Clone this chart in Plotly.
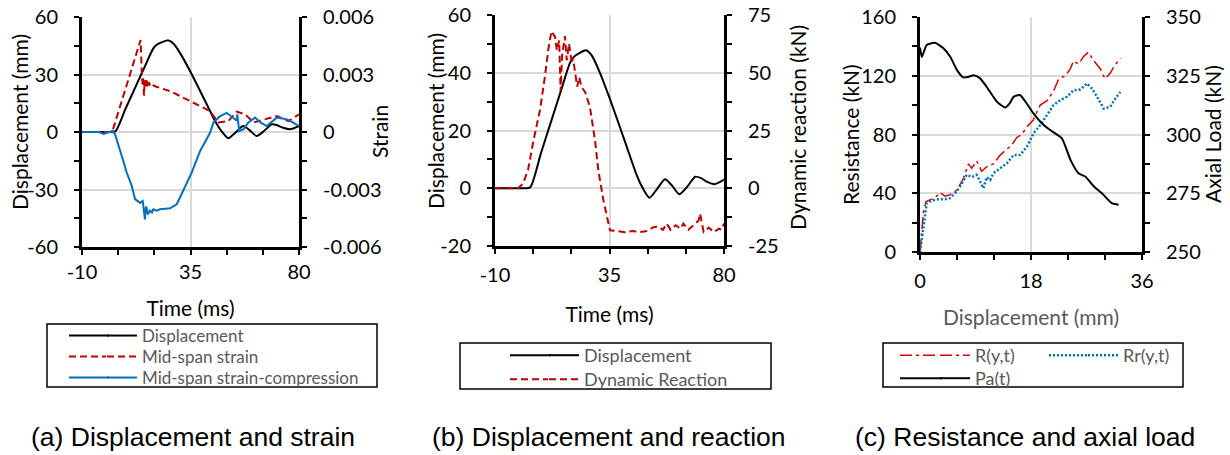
import plotly.graph_objects as go

# ---------------- data ----------------
# (a)/(b) mid-span displacement time history (mm)
t_disp = [-10, 0, 3.8, 8, 12, 16, 19.5, 21, 23.5, 25.8, 28, 31, 34.8, 39, 43.1, 45.2,
          47.5, 50.7, 53.5, 56.8, 59.5, 62.4, 65.5, 68.7, 71, 73.4, 76.3, 80]
disp = [0, 0, 0.3, 12, 23, 34, 43.5, 45.5, 47, 47.8, 46, 40.5, 31.8, 21.4, 11, 5.7,
        1, -3.3, -0.5, 3.1, 1, -2.1, 0.5, 4, 3.5, 2.2, 1.4, 3]

# (a) mid-span strain (tension)
t_strain = [-10, 2.5, 3.5, 9, 14.3, 14.8, 15.1, 15.4, 15.7, 16.0, 16.4, 16.8, 17.2, 17.7,
            18.3, 19, 20, 22.4, 27.2, 33.4, 39, 43, 46.5, 50.7, 54.2, 57.7, 61.1, 66,
            70.8, 75.6, 80]
strain = [0, 0, 0.0004, 0.0026, 0.0048, 0.0031, 0.0025, 0.0028, 0.0019, 0.0027, 0.0024,
          0.0027, 0.0023, 0.0026, 0.0024, 0.0025, 0.0024, 0.0023, 0.0021, 0.0017, 0.00136,
          0.0011, 0.0005, 0.00057, 0.00106, 0.00092, 0.0005, 0.00066, 0.00083, 0.00057,
          0.00092]

# (a) mid-span strain (compression)
t_comp = [-10, -3, -1, 1.5, 2.7, 3.7, 5.5, 7.1, 8.5, 10.6, 12, 13.2, 14.1, 15.2, 15.7,
          16.1, 16.5, 16.8, 17.3, 18.2, 19, 19.6, 21, 22.3, 24.5, 26.5, 29.3, 32.7, 35.5,
          39, 43.1, 44.5, 47, 50, 52.8, 54.1, 54.4, 55.2, 56.9, 59, 61.8, 64, 66.6, 68.5,
          70.8, 73, 75, 77.5, 80]
strain_comp = [0, 0, -0.0001, 0, 0.00005, -0.00012, -0.0008, -0.0015, -0.0021, -0.0028,
               -0.0035, -0.0036, -0.0037, -0.0036, -0.0040, -0.00456, -0.0039, -0.00395,
               -0.0043, -0.0041, -0.0042, -0.00403, -0.0041, -0.00403, -0.0040, -0.00398,
               -0.00377, -0.0029, -0.00212, -0.00099, -0.00004, 0.00049, 0.0008, 0.001,
               0.00075, 0.0006, 0.00092, 0.00005, 0.00014, 0.0005, 0.00075, 0.0005,
               0.00031, 0.0005, 0.00075, 0.0007, 0.00066, 0.0005, 0.00031]

# (b) dynamic reaction (kN)
t_react = [-10, -1, 1, 3, 5, 7, 7.7, 9.7, 11, 12.2, 12.7, 13.6, 14.3, 15.2, 15.8, 16.4,
           17.5, 18.2, 19.1, 20.2, 20.6, 22.3, 23.1, 24, 25.4, 27.3, 29.3, 30.6, 32.6,
           35.2, 38, 41, 44, 47, 50, 52, 54, 56, 57.5, 59, 61, 63, 64, 66, 68, 70, 70.6,
           72, 74, 76, 78, 79, 80]
reaction = [0, 0, 2, 8, 20, 31, 34, 49, 60.5, 68, 67, 65.5, 59.7, 64, 42, 58, 65.8, 55.4,
            62.6, 54, 56.8, 44, 48, 43.8, 41.7, 35.2, 20.8, 7.8, -5.2, -18.2, -18.5, -19,
            -18.5, -19, -18.5, -17, -16.5, -18, -15.3, -18, -16, -17.5, -15.3, -18, -16,
            -14, -11, -18.9, -17, -19, -17.5, -18, -15.3]

# (c) resistance R(y,t) (kN) vs displacement (mm)
d_R = [0, 0.27, 0.54, 0.97, 1.6, 2.4, 3.25, 4.06, 4.87, 5.96, 7.04, 7.85, 8.39, 9.2, 10.0,
       10.8, 11.9, 13.0, 14.1, 14.9, 15.7, 16.5, 17.3, 18.4, 18.9, 19.5, 20.6, 21.7, 22.5,
       23.6, 24.4, 24.9, 25.7, 26.5, 27.3, 28.2, 29.2, 30.0, 30.9, 31.4, 32.5]
R = [0, 13, 26.5, 34.4, 35.5, 36.7, 40.5, 38, 39, 42, 50, 60, 57, 62, 55, 58, 60, 66, 70,
     73, 78, 80, 85, 90, 95, 100, 103, 110, 118, 120, 125, 130, 128, 133, 136, 130, 125,
     118, 122, 126, 132]

# (c) resistance Rr(y,t) (kN)
d_Rr = [0, 0.27, 0.54, 0.81, 1.08, 1.62, 2.44, 3.25, 4.06, 4.87, 5.68, 6.5, 7.58, 8.39,
        9.2, 9.75, 10.29, 10.83, 11.37, 11.91, 12.99, 14.08, 15.16, 16.24, 17.33, 18.41,
        19.49, 20.57, 21.66, 22.74, 23.82, 24.91, 25.99, 27.07, 27.88, 28.7, 29.78, 30.86,
        31.67, 32.49]
Rr = [0, 8, 17, 24, 33, 34.4, 35.5, 36, 36, 36.7, 40, 44.6, 52.5, 51, 52.5, 48, 43.4, 51,
      49, 53.6, 57, 60.4, 66, 66, 71.7, 80.8, 86.4, 93.2, 100, 103.4, 105.7, 110.2, 110.6,
      114.7, 111.3, 105.7, 97.7, 98.9, 104.5, 109]

# (c) axial load Pa(t) (kN)
d_Pa = [0, 0.3, 0.6, 1.1, 2.4, 3.8, 4.9, 6, 7, 7.8, 8.7, 9.7, 10.8, 12.5, 13.8, 14.6, 15.2,
        16.2, 17.3, 18.4, 19.8, 21.1, 23, 24.4, 25.7, 26.8, 28.2, 29.5, 31.1, 32.2]
Pa = [337, 333, 335, 338.1, 339, 336.7, 333.1, 327.4, 324.3, 324.5, 325.2, 324, 320.3,
      313.9, 311.5, 313.5, 316.1, 316.8, 313.2, 309, 304.7, 301.9, 298.4, 289.2, 283.5,
      282.1, 277.9, 275, 270.8, 270.1]

# tick values / labels
time_ticks = [-10, 35, 80]
time_minor = [-10, 5, 20, 35, 50, 65, 80]
a_left_ticks = [-60, -30, 0, 30, 60]
a_left_minor = [-60, -45, -30, -15, 0, 15, 30, 45, 60]
a_right_ticks = [-0.006, -0.003, 0, 0.003, 0.006]
a_right_text = ["-0.006", "-0.003", "0", "0.003", "0.006"]
a_right_minor = [-0.006, -0.0045, -0.003, -0.0015, 0, 0.0015, 0.003, 0.0045, 0.006]
b_left_ticks = [-20, 0, 20, 40, 60]
b_left_minor = [-20, -10, 0, 10, 20, 30, 40, 50, 60]
b_right_ticks = [-25, 0, 25, 50, 75]
b_right_minor = [-25, -12.5, 0, 12.5, 25, 37.5, 50, 62.5, 75]
c_x_ticks = [0, 18, 36]
c_x_minor = [0, 6, 12, 18, 24, 30, 36]
c_left_ticks = [0, 40, 80, 120, 160]
c_left_minor = [0, 20, 40, 60, 80, 100, 120, 140, 160]
c_right_ticks = [250, 275, 300, 325, 350]
c_right_minor = [250, 262.5, 275, 287.5, 300, 312.5, 325, 337.5, 350]

captions = ["(a) Displacement and strain", "(b) Displacement and reaction",
            "(c) Resistance and axial load"]

# ---------------- styling helpers ----------------
W, H = 1230, 455
def px(x):
    return x / W
def py(y):
    return 1 - y / H

FONT = "Lato"
TICKFONT = dict(family=FONT, size=20, color="black")
GRID = "#D9D9D9"
RED = "#C00000"
BLUE = "#0070C0"
RED2 = "#E00000"
DASH_RED = "7px,4px"
DASH_DOT = "12px,4px,3px,4px"
DOT = "2px,2px"

def fmt(v):
    return "-" + str(abs(v)) if v < 0 else str(v)

def main_axis(domain, rng, ticks, minor, text=None, grid=True, title=None,
              titlecolor="black", standoff=10, labelstandoff=6, **kw):
    d = dict(
        range=rng, showline=True, linecolor="black", linewidth=3,
        ticks="outside", ticklen=5, tickwidth=2, tickcolor="black",
        tickmode="array", tickvals=ticks,
        ticktext=text if text is not None else [fmt(v) for v in ticks],
        tickfont=TICKFONT, ticklabelstandoff=labelstandoff,
        minor=dict(tickmode="array", tickvals=minor, ticks="outside", ticklen=5,
                   tickwidth=2, tickcolor="black", showgrid=False),
        showgrid=grid, gridcolor=GRID, gridwidth=2, zeroline=False,
        automargin=False, fixedrange=True,
    )
    if domain is not None:
        d["domain"] = domain
    if title is not None:
        d["title"] = dict(text=title, font=dict(family=FONT, size=21, color=titlecolor),
                          standoff=standoff)
    d.update(kw)
    return d

def tick_overlay(rng, vals, **kw):
    d = dict(range=rng, tickmode="array", tickvals=vals, ticks="inside", ticklen=5,
             tickwidth=2, tickcolor="black", showticklabels=False, showgrid=False,
             zeroline=False, showline=False, automargin=False, fixedrange=True)
    d.update(kw)
    return d

fig = go.Figure()

# ---------------- panel (a) ----------------
fig.add_trace(go.Scatter(x=t_disp, y=disp, mode="lines", name="Displacement",
                         line=dict(color="black", width=2, shape="spline", smoothing=0.6),
                         xaxis="x", yaxis="y", legend="legend"))
fig.add_trace(go.Scatter(x=t_strain, y=strain, mode="lines", name="Mid-span strain",
                         line=dict(color=RED, width=2, dash=DASH_RED),
                         xaxis="x", yaxis="y2", legend="legend2"))
fig.add_trace(go.Scatter(x=t_comp, y=strain_comp, mode="lines",
                         name="Mid-span strain-compression",
                         line=dict(color=BLUE, width=2),
                         xaxis="x", yaxis="y2", legend="legend3"))

# ---------------- panel (b) ----------------
fig.add_trace(go.Scatter(x=t_disp, y=disp, mode="lines", name="Displacement",
                         line=dict(color="black", width=2, shape="spline", smoothing=0.6),
                         xaxis="x3", yaxis="y5", legend="legend4"))
fig.add_trace(go.Scatter(x=t_react, y=reaction, mode="lines", name="Dynamic Reaction",
                         line=dict(color=RED, width=2, dash=DASH_RED),
                         xaxis="x3", yaxis="y6", legend="legend5"))

# ---------------- panel (c) ----------------
fig.add_trace(go.Scatter(x=d_R, y=R, mode="lines", name="R(y,t)",
                         line=dict(color=RED2, width=1.5, dash=DASH_DOT),
                         xaxis="x5", yaxis="y9", legend="legend6"))
fig.add_trace(go.Scatter(x=d_Rr, y=Rr, mode="lines", name="Rr(y,t)",
                         line=dict(color=BLUE, width=2.5, dash=DOT),
                         xaxis="x5", yaxis="y9", legend="legend7"))
fig.add_trace(go.Scatter(x=d_Pa, y=Pa, mode="lines", name="Pa(t)",
                         line=dict(color="black", width=2, shape="spline", smoothing=0.6),
                         xaxis="x5", yaxis="y10", legend="legend8"))

# ---------------- axes ----------------
lay = {}
panels = [
    dict(x=("xaxis", "x"), xo="xaxis2", y=("yaxis", "y"), y2="yaxis2", yo="yaxis3", y2o="yaxis4",
         xd=(82, 299), yd=(17, 247), xr=[-10, 80], xt=time_ticks, xm=time_minor,
         xtitle="Time (ms)", xcol="black", xls=0, xts=20,
         lr=[-60, 60], lt=a_left_ticks, lm=a_left_minor,
         rr=[-0.006, 0.006], rt=a_right_ticks, rm=a_right_minor, rtext=a_right_text),
    dict(x=("xaxis3", "x3"), xo="xaxis4", y=("yaxis5", "y5"), y2="yaxis6", yo="yaxis7", y2o="yaxis8",
         xd=(495, 724), yd=(15, 246), xr=[-10, 80], xt=time_ticks, xm=time_minor,
         xtitle="Time (ms)", xcol="black", xls=4, xts=23,
         lr=[-20, 60], lt=b_left_ticks, lm=b_left_minor,
         rr=[-25, 75], rt=b_right_ticks, rm=b_right_minor, rtext=None),
    dict(x=("xaxis5", "x5"), xo="xaxis6", y=("yaxis9", "y9"), y2="yaxis10", yo="yaxis11", y2o="yaxis12",
         xd=(920, 1142), yd=(17, 252), xr=[0, 36], xt=c_x_ticks, xm=c_x_minor,
         xtitle="Displacement (mm)", xcol="#595959", xls=4, xts=20,
         lr=[0, 160], lt=c_left_ticks, lm=c_left_minor,
         rr=[250, 350], rt=c_right_ticks, rm=c_right_minor, rtext=None),
]

for p in panels:
    xname, xid = p["x"]
    yname, yid = p["y"]
    xdom = [px(p["xd"][0]), px(p["xd"][1])]
    ydom = [py(p["yd"][1]), py(p["yd"][0])]
    lay[xname] = main_axis(xdom, p["xr"], p["xt"], p["xm"], title=p["xtitle"],
                           titlecolor=p["xcol"], standoff=p["xts"], labelstandoff=p["xls"],
                           anchor=yid, side="bottom")
    lay[p["xo"]] = tick_overlay(p["xr"], p["xm"], overlaying=xid, anchor=yid, side="bottom")
    lay[yname] = main_axis(ydom, p["lr"], p["lt"], p["lm"], labelstandoff=12,
                           anchor=xid, side="left")
    lay[p["y2"]] = main_axis(None, p["rr"], p["rt"], p["rm"], text=p["rtext"], grid=False,
                             labelstandoff=12, anchor=xid, side="right", overlaying=yid)
    lay[p["yo"]] = tick_overlay(p["lr"], p["lm"], overlaying=yid, anchor=xid, side="left")
    lay[p["y2o"]] = tick_overlay(p["rr"], p["rm"], overlaying=yid, anchor=xid, side="right")

# ---------------- legends (one entry each, placed like the reference boxes) ----------------
LEG = dict(bgcolor="rgba(0,0,0,0)", borderwidth=0, xanchor="left", yanchor="top",
           tracegroupgap=0, itemclick=False, itemdoubleclick=False)
leg_pos = {  # legend id: (left px, top px, font size)
    "legend": (102, 318, 17), "legend2": (102, 339, 17), "legend3": (102, 360, 17),
    "legend4": (544, 337, 18), "legend5": (544, 361, 18),
    "legend6": (935, 337, 18), "legend7": (1083, 337, 18), "legend8": (935, 360, 18),
}
for lid, (lx, ly, fs) in leg_pos.items():
    lay[lid] = dict(LEG, x=px(lx), y=py(ly), font=dict(family=FONT, size=fs, color="#595959"))

def key_line_y(top, fs):
    # centre of a single legend entry's sample line below the legend's top edge
    return top + 5 + (max(fs * 1.3, 16) + 3) / 2

shapes = []
for (x0, y0, x1, y1) in [(47, 324, 377, 387), (460, 343, 771, 389), (883, 343, 1183, 387)]:
    shapes.append(dict(type="rect", xref="paper", yref="paper",
                       x0=px(x0), x1=px(x1), y0=py(y1), y1=py(y0),
                       line=dict(color="black", width=1.5), fillcolor="rgba(0,0,0,0)"))

# longer legend samples (the reference's key lines are ~68 px long): extend leftwards
sample_ext = [  # (legend id, start x, colour, width, dash)
    ("legend", 69, "black", 2, "solid"), ("legend2", 69, RED, 2, DASH_RED),
    ("legend3", 69, BLUE, 2, "solid"),
    ("legend4", 510, "black", 2, "solid"), ("legend5", 510, RED, 2, DASH_RED),
    ("legend6", 900, RED2, 1.5, DASH_DOT), ("legend7", 1049, BLUE, 2.5, DOT),
    ("legend8", 900, "black", 2, "solid"),
]
for lid, xs, col, wd, ds in sample_ext:
    lx, ly, fs = leg_pos[lid]
    yy = key_line_y(ly, fs)
    xe = lx + 7 if ds == "solid" else lx + 4
    shapes.append(dict(type="line", xref="paper", yref="paper", x0=px(xs), x1=px(xe),
                       y0=py(yy), y1=py(yy), line=dict(color=col, width=wd, dash=ds)))

annotations = []
# y-axis titles (rotated)
ytitles = [("Displacement (mm)", 20, 122), ("Strain", 379, 132),
           ("Displacement (mm)", 436, 121), ("Dynamic reaction (kN)", 797, 128),
           ("Resistance (kN)", 850, 135), ("Axial Load (kN)", 1212, 134)]
for txt, cx, cy in ytitles:
    annotations.append(dict(x=px(cx), y=py(cy), xref="paper", yref="paper", text=txt,
                            textangle=-90, showarrow=False, xanchor="center",
                            yanchor="middle",
                            font=dict(family=FONT, size=21, color="black")))
for cx, txt in zip([193, 609, 1025], captions):
    annotations.append(dict(x=px(cx), y=py(437), xref="paper", yref="paper", text=txt,
                            showarrow=False, xanchor="center", yanchor="middle",
                            font=dict(family="Liberation Sans", size=26.5, color="black")))

fig.update_layout(
    width=W, height=H, template="none",
    margin=dict(l=0, r=0, t=0, b=0, pad=0),
    paper_bgcolor="white", plot_bgcolor="rgba(0,0,0,0)",
    showlegend=True, shapes=shapes, annotations=annotations,
    **lay,
)

fig.write_html("out.html", config=dict(displayModeBar=False, responsive=False))
